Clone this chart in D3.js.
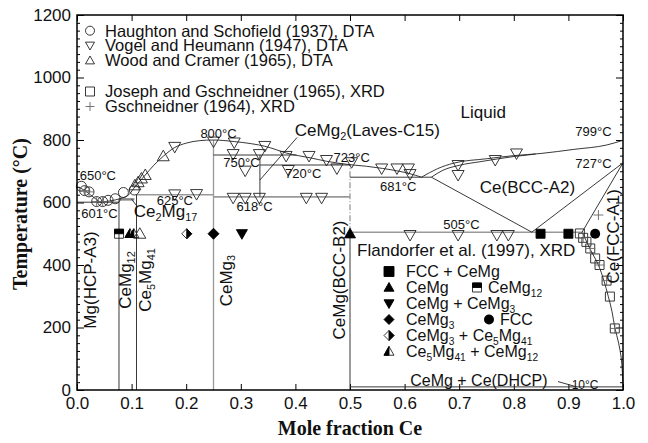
<!DOCTYPE html>
<html>
<head>
<meta charset="utf-8">
<script src="https://cdn.jsdelivr.net/npm/d3@7"></script>
<style>
body { margin: 0; background: #fff; }
text { font-family: "Liberation Sans", Arial, sans-serif; fill: #111; }
</style>
</head>
<body>
<div id="chart"></div>
<script>
// axis ticks
const xTicks = [0, 0.1, 0.2, 0.3, 0.4, 0.5, 0.6, 0.7, 0.8, 0.9, 1.0];
const yTicks = [0, 200, 400, 600, 800, 1000, 1200];

// phase boundaries [mole fraction Ce, T]
const liquidusMg = [[0, 650], [0.012, 641], [0.025, 624], [0.042, 601]];
const liquidusMid = [[0.042, 601], [0.06, 605], [0.08, 613], [0.095, 625], [0.106, 650], [0.115, 668],
  [0.125, 688], [0.14, 718], [0.158, 748], [0.179, 776], [0.2, 790], [0.225, 798], [0.25, 800],
  [0.288, 795], [0.32, 788], [0.344, 780], [0.365, 769], [0.384, 758], [0.405, 750], [0.427, 743],
  [0.457, 732], [0.5, 721], [0.53, 716], [0.56, 709], [0.59, 700], [0.61, 692], [0.631, 681]];
const liquidusCe = [[0.631, 681], [0.66, 708], [0.69, 726], [0.75, 740], [0.8, 750], [0.85, 757],
  [0.91, 770], [0.97, 784], [1.0, 799]];
const solidusBcc = [[0.649, 681], [0.67, 703], [0.7, 719], [0.74, 731], [0.8, 747], [0.84, 755]];
const bccLeft = [[0.649, 681], [0.833, 505]];
const bccRight = [[0.833, 505], [1.0, 727]];
const fccUpper = [[0.925, 505], [1.0, 727]];
const fccSolvus = [[0.925, 505], [0.932, 480], [0.94, 450], [0.955, 400], [0.965, 350], [0.973, 300],
  [0.98, 250], [0.985, 200], [0.992, 150], [0.997, 100], [0.999, 50], [1.0, 10]];

// invariant lines [x1, x2, T] and compound lines [x, T1, T2]
const invariantsBlack = [[0, 0.0769, 601], [0.25, 0.402, 752], [0.335, 0.5, 720], [0.5, 0.649, 681], [0.5, 1.0, 10]];
const invariantsGray = [[0.109, 0.25, 625], [0.25, 0.5, 618], [0.5, 0.925, 505]];
const compoundsBlack = [[0.0769, 0, 611], [0.109, 0, 625], [0.335, 618, 752], [0.5, 0, 505]];
const compoundsGray = [[0.25, 0, 800], [0.5, 505, 723]];
const ce2mg17 = [0.0769, 0.105, 606, 614];

// experimental points
const haughton = [[0.008, 652], [0.014, 638], [0.022, 634], [0.036, 603], [0.047, 603], [0.057, 607],
  [0.07, 612], [0.085, 632], [0.105, 640]];
const vogel = [[0.179, 778], [0.25, 795], [0.288, 792], [0.344, 781], [0.286, 755], [0.334, 755],
  [0.308, 702], [0.383, 749], [0.387, 704], [0.425, 749], [0.457, 736], [0.476, 709], [0.503, 729],
  [0.558, 709], [0.586, 709], [0.607, 709], [0.61, 691], [0.698, 720], [0.698, 688], [0.766, 736],
  [0.805, 757], [0.179, 626], [0.219, 627], [0.286, 615], [0.308, 615], [0.334, 615], [0.42, 615],
  [0.448, 615], [0.61, 496], [0.698, 496], [0.769, 496], [0.79, 496]];
const wood = [[0.106, 655], [0.112, 665], [0.118, 677], [0.125, 688], [0.158, 748], [0.115, 500]];
const joseph = [[0.921, 501], [0.927, 487], [0.933, 474], [0.94, 453], [0.949, 421], [0.957, 400],
  [0.97, 350], [0.976, 299], [0.985, 197]];
const gschneidner = [[0.955, 560], [0.015, 638], [0.022, 634], [0.036, 603], [0.047, 603],
  [0.927, 487], [0.94, 453], [0.957, 400], [0.97, 350], [0.985, 197]];

// Flandorfer et al. (1997) XRD at 500 C
const flFccCeMg = [[0.849, 500], [0.9, 500]];
const flCeMg = [[0.5, 500]];
const flCeMgCeMg3 = [[0.302, 500]];
const flCeMg3 = [[0.25, 500]];
const flCeMg3Ce5Mg41 = [[0.201, 500]];
const flCe5Mg41CeMg12 = [[0.097, 500], [0.104, 500]];
const flCeMg12 = [[0.077, 500]];
const flFcc = [[0.949, 500]];

const W = 648, H = 443;
const svg = d3.select("#chart").append("svg").attr("width", W).attr("height", H);

const x = d3.scaleLinear().domain([0, 1]).range([77, 623]);
const y = d3.scaleLinear().domain([0, 1200]).range([390, 15]);

// ---------- helpers
function marker(g, type, px, py, s) {
  const h = s / 2;
  const k = g.append("g").attr("transform", `translate(${px},${py})`);
  const stroke = "#222";
  const open = (d) => k.append("path").attr("d", d).attr("fill", "none").attr("stroke", stroke).attr("stroke-width", 0.9);
  const solid = (d) => k.append("path").attr("d", d).attr("fill", "#000").attr("stroke", "#000").attr("stroke-width", 0.9);
  const triDown = `M${-h},${-0.75 * h}L${h},${-0.75 * h}L0,${h}Z`;
  const triUp = `M0,${-h}L${h},${0.75 * h}L${-h},${0.75 * h}Z`;
  const sq = `M${-h},${-h}H${h}V${h}H${-h}Z`;
  const dia = `M0,${-h}L${h},0L0,${h}L${-h},0Z`;
  if (type === "circle") k.append("circle").attr("r", h).attr("fill", "none").attr("stroke", stroke).attr("stroke-width", 0.9);
  if (type === "circleFill") k.append("circle").attr("r", h).attr("fill", "#000");
  if (type === "triDown") open(triDown);
  if (type === "triUp") open(triUp);
  if (type === "square") open(sq);
  if (type === "plus") k.append("path").attr("d", `M${-h},0H${h}M0,${-h}V${h}`).attr("stroke", "#666").attr("stroke-width", 0.9);
  if (type === "sqFill") solid(sq);
  if (type === "triDownFill") solid(triDown);
  if (type === "triUpFill") solid(triUp);
  if (type === "diaFill") solid(dia);
  if (type === "sqHalf") { open(sq); solid(`M${-h},${-h}H${h}V0H${-h}Z`); }
  if (type === "diaHalf") { open(dia); solid(`M0,${-h}L${h},0L0,${h}Z`); }
  if (type === "triHalf") { open(triUp); solid(`M0,${-h}L0,${0.75 * h}L${-h},${0.75 * h}Z`); }
}

function label(g, str, px, py, size, anchor, rotate) {
  const t = g.append("text").attr("font-size", size).attr("text-anchor", anchor || "start");
  if (rotate) t.attr("transform", `translate(${px},${py}) rotate(-90)`).attr("y", 0.36 * size);
  else t.attr("x", px).attr("y", py + 0.36 * size);
  const bits = str.split(/_\{([^}]*)\}/);
  const off = size * 0.22;
  let down = false;
  bits.forEach((b, i) => {
    if (!b) return;
    const sp = t.append("tspan").text(b);
    if (i % 2) { sp.attr("font-size", size * 0.64).attr("dy", off); down = true; }
    else if (down) { sp.attr("dy", -off); down = false; }
  });
  return t;
}

// ---------- axes
const minorY = d3.range(0, 1201, 25).filter((d) => d % 200 !== 0);

svg.append("g").attr("transform", "translate(0,390)")
  .call(d3.axisBottom(x).tickValues(xTicks).tickFormat(d3.format(".1f")).tickSizeInner(-6).tickSizeOuter(0).tickPadding(7))
  .call((g) => g.select(".domain").remove())
  .selectAll("text").attr("font-size", 17).attr("fill", "#111").style("font-family", "Liberation Sans, Arial, sans-serif");

svg.append("g").attr("transform", "translate(0,15)")
  .call(d3.axisTop(x).tickValues(xTicks).tickFormat("").tickSizeInner(-6).tickSizeOuter(0))
  .call((g) => g.select(".domain").remove());

svg.append("g").attr("transform", "translate(77,0)")
  .call(d3.axisLeft(y).tickValues(yTicks).tickFormat(d3.format("d")).tickSizeInner(-7).tickSizeOuter(0).tickPadding(6))
  .call((g) => g.select(".domain").remove())
  .selectAll("text").attr("font-size", 17).attr("fill", "#111").style("font-family", "Liberation Sans, Arial, sans-serif");

svg.append("g").attr("transform", "translate(77,0)")
  .call(d3.axisLeft(y).tickValues(minorY).tickFormat("").tickSizeInner(-3).tickSizeOuter(0))
  .call((g) => g.select(".domain").remove());

svg.append("g").attr("transform", "translate(623,0)")
  .call(d3.axisRight(y).tickValues(yTicks).tickFormat("").tickSizeInner(-7).tickSizeOuter(0))
  .call((g) => g.select(".domain").remove());

svg.append("g").attr("transform", "translate(623,0)")
  .call(d3.axisRight(y).tickValues(minorY).tickFormat("").tickSizeInner(-3).tickSizeOuter(0))
  .call((g) => g.select(".domain").remove());

svg.append("text").attr("x", 350).attr("y", 435).attr("text-anchor", "middle")
  .attr("font-size", 20).attr("font-weight", "bold").style("font-family", "Liberation Serif, Times New Roman, serif")
  .text("Mole fraction Ce");

svg.append("text").attr("transform", "translate(27,214) rotate(-90)").attr("text-anchor", "middle")
  .attr("font-size", 20).attr("font-weight", "bold").style("font-family", "Liberation Serif, Times New Roman, serif")
  .text("Temperature (\u00b0C)");

// ---------- phase lines
const plot = svg.append("g");
const curve = d3.line().x((d) => x(d[0])).y((d) => y(d[1])).curve(d3.curveMonotoneX);
const straight = d3.line().x((d) => x(d[0])).y((d) => y(d[1]));

plot.append("rect").attr("x", x(ce2mg17[0])).attr("y", y(ce2mg17[3]))
  .attr("width", x(ce2mg17[1]) - x(ce2mg17[0])).attr("height", y(ce2mg17[2]) - y(ce2mg17[3]))
  .attr("fill", "#888");

invariantsGray.forEach((d) => {
  plot.append("line").attr("x1", x(d[0])).attr("x2", x(d[1])).attr("y1", y(d[2])).attr("y2", y(d[2]))
    .attr("stroke", "#999").attr("stroke-width", 1.6);
});
compoundsGray.forEach((d, i) => {
  plot.append("line").attr("x1", x(d[0])).attr("x2", x(d[0])).attr("y1", y(d[1])).attr("y2", y(d[2]))
    .attr("stroke", "#999").attr("stroke-width", 1.3).attr("stroke-dasharray", i === 1 ? "6,2,1,2" : null);
});
invariantsBlack.forEach((d) => {
  plot.append("line").attr("x1", x(d[0])).attr("x2", x(d[1])).attr("y1", y(d[2])).attr("y2", y(d[2]))
    .attr("stroke", "#222").attr("stroke-width", 0.9);
});
compoundsBlack.forEach((d) => {
  plot.append("line").attr("x1", x(d[0])).attr("x2", x(d[0])).attr("y1", y(d[1])).attr("y2", y(d[2]))
    .attr("stroke", "#222").attr("stroke-width", 0.9);
});

[liquidusMg, liquidusMid, liquidusCe, solidusBcc].forEach((d) => {
  plot.append("path").datum(d).attr("d", curve).attr("fill", "none").attr("stroke", "#222").attr("stroke-width", 0.9);
});
[bccLeft, bccRight, fccUpper].forEach((d) => {
  plot.append("path").datum(d).attr("d", straight).attr("fill", "none").attr("stroke", "#222").attr("stroke-width", 0.9);
});
plot.append("path").datum(fccSolvus).attr("d", d3.line().x((d) => x(d[0])).y((d) => y(d[1])).curve(d3.curveCatmullRom))
  .attr("fill", "none").attr("stroke", "#222").attr("stroke-width", 0.9);

// ---------- points
const pts = svg.append("g");
haughton.forEach((d) => marker(pts, "circle", x(d[0]), y(d[1]), 10));
vogel.forEach((d) => marker(pts, "triDown", x(d[0]), y(d[1]), 12));
wood.forEach((d) => marker(pts, "triUp", x(d[0]), y(d[1]), 12));
joseph.forEach((d) => marker(pts, "square", x(d[0]), y(d[1]), 9));
gschneidner.forEach((d) => marker(pts, "plus", x(d[0]), y(d[1]), 10));
flFccCeMg.forEach((d) => marker(pts, "sqFill", x(d[0]), y(d[1]), 9));
flCeMg.forEach((d) => marker(pts, "triUpFill", x(d[0]), y(d[1]), 11));
flCeMgCeMg3.forEach((d) => marker(pts, "triDownFill", x(d[0]), y(d[1]), 11));
flCeMg3.forEach((d) => marker(pts, "diaFill", x(d[0]), y(d[1]), 11));
flCeMg3Ce5Mg41.forEach((d) => marker(pts, "diaHalf", x(d[0]), y(d[1]), 10));
flCe5Mg41CeMg12.forEach((d) => marker(pts, "triHalf", x(d[0]), y(d[1]), 10));
flCeMg12.forEach((d) => marker(pts, "sqHalf", x(d[0]), y(d[1]), 9));
flFcc.forEach((d) => marker(pts, "circleFill", x(d[0]), y(d[1]), 10));

// ---------- text labels
const lab = svg.append("g");
const deg = "\u00b0C";
label(lab, "650" + deg, x(0.005), y(688), 13);
label(lab, "601" + deg, x(0.008), y(564), 13);
label(lab, "625" + deg, x(0.146), y(608), 13);
label(lab, "800" + deg, x(0.226), y(820), 13);
label(lab, "750" + deg, x(0.268), y(730), 13);
label(lab, "720" + deg, x(0.381), y(694), 13);
label(lab, "618" + deg, x(0.292), y(587), 13);
label(lab, "723" + deg, x(0.47), y(743), 13);
label(lab, "681" + deg, x(0.555), y(653), 13);
label(lab, "505" + deg, x(0.671), y(531), 13);
label(lab, "799" + deg, x(0.979), y(827), 13, "end");
label(lab, "727" + deg, x(0.979), y(725), 13, "end");
label(lab, "10" + deg, x(0.906), y(16), 12);
label(lab, "Ce_{2}Mg_{17}", x(0.104), y(572), 17);
label(lab, "CeMg_{2}(Laves-C15)", x(0.399), y(832), 17);
label(lab, "Liquid", x(0.744), y(890), 17, "middle");
label(lab, "Ce(BCC-A2)", x(0.825), y(649), 17, "middle");
label(lab, "CeMg + Ce(DHCP)", x(0.736), y(32), 16, "middle");
label(lab, "Flandorfer et al. (1997), XRD", x(0.513), y(448), 17);

label(lab, "Mg(HCP-A3)", x(0.023), y(352), 17, "middle", true);
label(lab, "CeMg_{12}", x(0.088), y(352), 17, "middle", true);
label(lab, "Ce_{5}Mg_{41}", x(0.124), y(352), 17, "middle", true);
label(lab, "CeMg_{3}", x(0.272), y(350), 17, "middle", true);
label(lab, "CeMg(BCC-B2)", x(0.479), y(352), 17, "middle", true);
label(lab, "Ce(FCC-A1)", x(0.982), y(492), 17, "middle", true);

// leader lines
lab.append("line").attr("x1", x(0.335)).attr("y1", y(672)).attr("x2", x(0.403)).attr("y2", y(808))
  .attr("stroke", "#222").attr("stroke-width", 0.9);
lab.append("line").attr("x1", x(0.109)).attr("y1", y(590)).attr("x2", x(0.1)).attr("y2", y(611))
  .attr("stroke", "#222").attr("stroke-width", 0.9);
lab.append("line").attr("x1", x(0.881)).attr("y1", y(27)).attr("x2", x(0.915)).attr("y2", y(10))
  .attr("stroke", "#222").attr("stroke-width", 0.9);

// ---------- legends
const leg = svg.append("g");
const legTop = [
  ["circle", "Haughton and Schofield (1937), DTA", 30.7],
  ["triDown", "Vogel and Heumann (1947), DTA", 45.5],
  ["triUp", "Wood and Cramer (1965), DTA", 60.5],
  ["square", "Joseph and Gschneidner (1965), XRD", 91.5],
  ["plus", "Gschneidner (1964), XRD", 106.5]
];
legTop.forEach((d) => {
  marker(leg, d[0], 90, d[2], 9);
  label(leg, d[1], 105, d[2], 16.5);
});

const legFl = [
  ["sqFill", "FCC + CeMg"],
  ["triUpFill", "CeMg"],
  ["triDownFill", "CeMg + CeMg_{3}"],
  ["diaFill", "CeMg_{3}"],
  ["diaHalf", "CeMg_{3} + Ce_{5}Mg_{41}"],
  ["triHalf", "Ce_{5}Mg_{41} + CeMg_{12}"]
];
legFl.forEach((d, i) => {
  const cy = 271.5 + i * 16;
  marker(leg, d[0], 389, cy, 10);
  label(leg, d[1], 406, cy, 16);
});
marker(leg, "sqHalf", 477, 287.5, 9);
label(leg, "CeMg_{12}", 488, 287.5, 16);
marker(leg, "circleFill", 489, 319.5, 10);
label(leg, "FCC", 500, 319.5, 16);

// frame on top
svg.append("rect").attr("x", 77).attr("y", 15).attr("width", 546).attr("height", 375)
  .attr("fill", "none").attr("stroke", "#000").attr("stroke-width", 1.5);
</script>
</body>
</html>
